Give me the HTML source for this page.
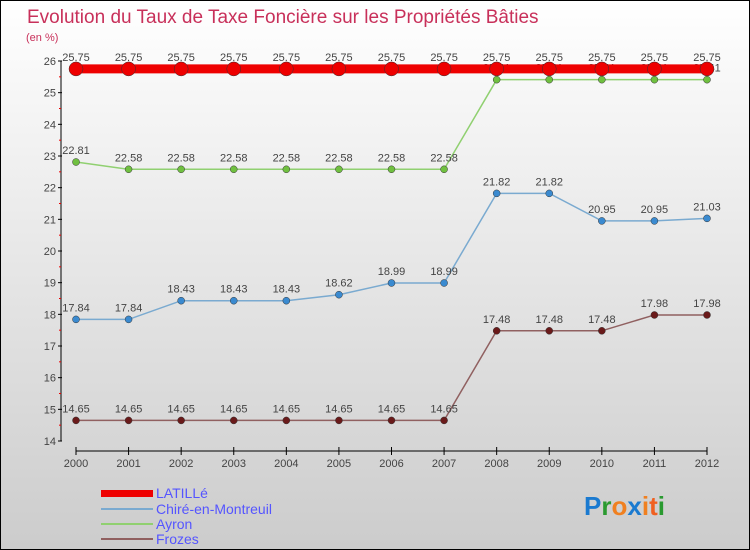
<!DOCTYPE html>
<html><head><meta charset="utf-8"><style>
body{margin:0}
#c{width:750px;height:550px;position:relative;box-sizing:border-box;border:1px solid #000;background:linear-gradient(#ffffff,#cccccc);font-family:"Liberation Sans",sans-serif;overflow:hidden}
</style></head><body>
<div id="c">
<svg id="s" width="750" height="550" style="position:absolute;left:0;top:0">
<text x="26" y="22" font-size="19" fill="#c8305a">Evolution du Taux de Taxe Foncière sur les Propriétés Bâties</text>
<text x="25" y="40" font-size="11" fill="#c8305a">(en %)</text>
<g id="axes"></g><g id="series"></g>
<g>
<rect x="100" y="489" width="52" height="7" fill="#e00"/>
<text x="155" y="497" font-size="14" fill="#55f">LATILLé</text>
<line x1="100" y1="508" x2="152" y2="508" stroke="#7aaad0" stroke-width="2"/>
<text x="155" y="513" font-size="14" fill="#55f">Chiré-en-Montreuil</text>
<line x1="100" y1="523" x2="152" y2="523" stroke="#90d070" stroke-width="2"/>
<text x="155" y="528" font-size="14" fill="#55f">Ayron</text>
<line x1="100" y1="538" x2="152" y2="538" stroke="#906060" stroke-width="2"/>
<text x="155" y="543" font-size="14" fill="#55f">Frozes</text>
</g>
<text x="583" y="514" font-size="26" font-weight="bold"><tspan fill="#1a7ad0">P</tspan><tspan fill="#2a9a30">r</tspan><tspan fill="#f08020">o</tspan><tspan fill="#1a7ad0">x</tspan><tspan fill="#f08020">i</tspan><tspan fill="#f06020">t</tspan><tspan fill="#2a9a30">i</tspan></text>
</svg>
</div>
<script>
const years=[2000,2001,2002,2003,2004,2005,2006,2007,2008,2009,2010,2011,2012];
const latille=[25.75,25.75,25.75,25.75,25.75,25.75,25.75,25.75,25.75,25.75,25.75,25.75,25.75];
const chire=[17.84,17.84,18.43,18.43,18.43,18.62,18.99,18.99,21.82,21.82,20.95,20.95,21.03];
const ayron=[22.81,22.58,22.58,22.58,22.58,22.58,22.58,22.58,25.41,25.41,25.41,25.41,25.41];
const frozes=[14.65,14.65,14.65,14.65,14.65,14.65,14.65,14.65,17.48,17.48,17.48,17.98,17.98];
const yTicks=[14,15,16,17,18,19,20,21,22,23,24,25,26];
const NS="http://www.w3.org/2000/svg";
const X=i=>75+i*(706-75)/(years.length-1);
const Y=v=>440-(v-14)*(380/12);
function mk(t,a,p){const e=document.createElementNS(NS,t);for(const k in a)e.setAttribute(k,a[k]);p.appendChild(e);return e;}
const ax=document.getElementById('axes');
let e=mk('line',{x1:60,y1:60,x2:60,y2:440,stroke:'#000','stroke-width':1},ax);


e=mk('line',{x1:75,y1:450,x2:706,y2:450,stroke:'#000','stroke-width':1},ax);


yTicks.forEach(v=>{
 mk('line',{x1:57,y1:Y(v),x2:61,y2:Y(v),stroke:'#000'},ax);
 if(v<26) mk('line',{x1:58,y1:Y(v+0.5),x2:60,y2:Y(v+0.5),stroke:'#e00'},ax);
 const t=mk('text',{x:55,y:Y(v)+4,'font-size':11,'text-anchor':'end',fill:'#444'},ax);
 t.textContent=v;
 
 
});
years.forEach((y,i)=>{
 mk('line',{x1:X(i),y1:446,x2:X(i),y2:454,stroke:'#000'},ax);
 const t=mk('text',{x:X(i),y:466,'font-size':11,'text-anchor':'middle',fill:'#444'},ax);
 t.textContent=y;
 
 
});
const sg=document.getElementById('series');
function series(name,vals,lc,pc,lw,r){
 const g=mk('g',{},sg);
 
 
 const l=mk('polyline',{points:vals.map((v,i)=>X(i)+','+Y(v)).join(' '),fill:'none',stroke:lc,'stroke-width':lw},g);
 
 
 vals.forEach((v,i)=>{
  const c=mk('circle',{cx:X(i),cy:Y(v),r:r,fill:pc,stroke:'#333','stroke-width':0.5},g);
  
  
  const t=mk('text',{x:X(i),y:Y(v)-8,'font-size':11,'text-anchor':'middle',fill:'#444'},g);
  t.textContent=v.toFixed(2);
  
  
 });
}
series('frozes',frozes,'#906060','#6a1a1a',1.5,3.5);
series('chire',chire,'#7aaad0','#3a8ad0',1.5,3.5);
series('ayron',ayron,'#90d070','#70c040',1.5,3.5);
series('latille',latille,'#e00','#e00',9,7);
</script>
</body></html>
